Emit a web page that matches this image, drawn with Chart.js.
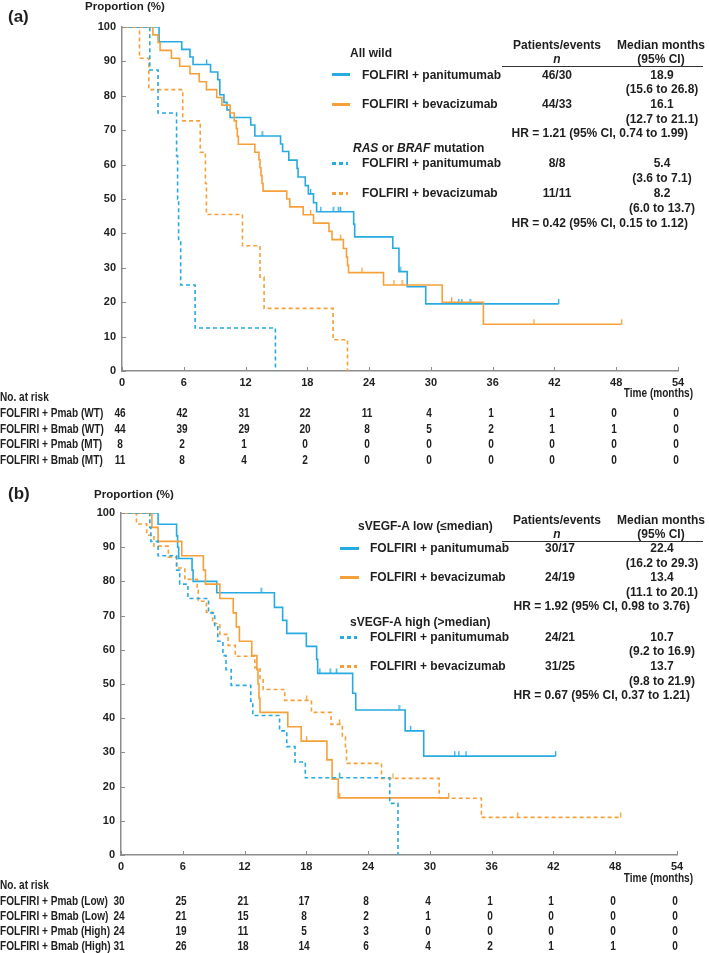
<!DOCTYPE html>
<html>
<head>
<meta charset="utf-8">
<title>Kaplan-Meier curves, panels (a) and (b)</title>
<script src="https://cdn.jsdelivr.net/npm/chart.js@4.4.1/dist/chart.umd.min.js"></script>
<style>
  body { margin: 0; background: #fff; }
  #page { position: relative; width: 709px; height: 953px; overflow: hidden;
          font-family: "Liberation Sans", Arial, sans-serif; color: #1e1e1e; }
  canvas { position: absolute; left: 0; }
  .t { position: absolute; white-space: nowrap; font-weight: bold; font-size: 12px; line-height: 14px; }
  .nar { font-size: 12px; }
  .sw { position: absolute; height: 3px; }
  .rule { position: absolute; height: 1px; background: #333; }
</style>
</head>
<body>
<div id="page">
  <canvas id="chartA" width="709" height="480" style="top:0"></canvas>
  <canvas id="chartB" width="709" height="473" style="top:480px"></canvas>
</div>
<script>
const BLUE = "#27aae1";
const ORANGE = "#f6a03a";
const AXIS = "#8c8c8c";

const months = [0, 6, 12, 18, 24, 30, 36, 42, 48, 54];

// ---- panel (a): all wild / RAS or BRAF mutation ----
const wtPmabT = [0, 3.6, 5.8, 6.6, 6.9, 8.6, 9.3, 9.5, 9.9, 10.2, 10.5, 12.5, 12.9, 15.4, 15.6, 16.2, 17.0, 17.1, 17.8, 18.1, 18.6, 18.9, 22.5, 22.6, 26.3, 26.9, 27.7, 29.5, 42.4];
const wtPmabS = [100, 95.7, 93.5, 91.3, 89.1, 86.9, 84.7, 80.3, 78.1, 75.9, 73.7, 71.5, 68.3, 66.0, 63.8, 61.3, 58.9, 56.4, 53.9, 51.5, 48.9, 46.3, 42.7, 39.0, 35.7, 28.9, 24.5, 19.5, 19.5];
const wtPmabCens = [8.2, 13.6, 18.3, 19.3, 20.5, 21.0, 21.2, 27.0, 32.7, 33.0, 33.8, 42.4];

const wtBmabT = [0, 3.0, 3.5, 3.7, 4.8, 5.6, 6.6, 7.5, 8.2, 9.2, 9.7, 10.5, 10.9, 11.1, 11.2, 11.3, 12.9, 13.3, 13.4, 13.5, 13.6, 13.7, 16.0, 16.3, 17.6, 18.6, 20.1, 20.4, 21.5, 21.8, 21.9, 22.0, 25.4, 31.1, 35.1, 48.5];
const wtBmabS = [100, 97.7, 95.5, 93.2, 90.9, 88.6, 86.4, 84.1, 81.8, 79.5, 77.3, 75.0, 72.7, 70.5, 68.2, 65.9, 63.6, 61.4, 59.1, 56.8, 54.5, 52.3, 50.0, 47.7, 45.4, 43.0, 40.6, 38.2, 35.6, 33.1, 30.7, 28.6, 25.0, 20.0, 13.6, 13.6];
const wtBmabCens = [18.3, 21.2, 23.3, 26.4, 27.2, 32.0, 40.0, 48.5];

const mtPmabT = [0, 2.7, 3.5, 5.3, 5.4, 5.5, 5.7, 7.1, 14.9];
const mtPmabS = [100, 87.5, 75, 62.5, 50, 37.5, 25, 12.5, 0];

const mtBmabT = [0, 1.7, 2.6, 5.9, 7.6, 8.1, 8.2, 11.7, 13.4, 13.8, 20.5, 21.9];
const mtBmabS = [100, 90.9, 81.8, 72.7, 63.6, 54.5, 45.5, 36.4, 27.3, 18.2, 9.1, 0];

const riskLabelsA = ["FOLFIRI + Pmab (WT)", "FOLFIRI + Bmab (WT)", "FOLFIRI + Pmab (MT)", "FOLFIRI + Bmab (MT)"];
const riskWtPmab = [46, 42, 31, 22, 11, 4, 1, 1, 0, 0];
const riskWtBmab = [44, 39, 29, 20, 8, 5, 2, 1, 1, 0];
const riskMtPmab = [8, 2, 1, 0, 0, 0, 0, 0, 0, 0];
const riskMtBmab = [11, 8, 4, 2, 0, 0, 0, 0, 0, 0];

// ---- panel (b): sVEGF-A low / high ----
const lowPmabT = [0, 3.6, 5.4, 5.5, 5.6, 6.9, 7.0, 9.3, 14.9, 15.7, 16.1, 18.0, 19.0, 19.1, 22.5, 22.8, 27.6, 29.4, 42.2];
const lowPmabS = [100, 96.7, 93.3, 90.0, 86.7, 83.3, 80.0, 76.7, 72.4, 68.6, 64.8, 61.0, 57.2, 53.1, 47.3, 42.4, 36.3, 28.9, 28.9];
const lowPmabCens = [13.6, 19.3, 20.3, 20.9, 27.0, 28.1, 32.4, 32.8, 33.5, 42.2];

const lowBmabT = [0, 3.0, 3.6, 5.9, 8.0, 8.2, 9.6, 10.9, 11.2, 11.5, 12.7, 13.2, 13.3, 13.4, 13.5, 16.2, 17.5, 20.0, 20.5, 21.1, 31.8];
const lowBmabS = [100, 95.8, 91.7, 87.5, 83.3, 79.2, 75.0, 70.8, 66.7, 62.5, 58.3, 54.2, 50.0, 45.8, 41.7, 37.5, 33.3, 27.8, 22.2, 16.7, 16.7];
const lowBmabCens = [18.0, 21.2, 31.8];

const highPmabT = [0, 2.8, 2.9, 3.6, 5.4, 5.7, 6.5, 8.5, 9.1, 9.4, 9.9, 10.2, 10.7, 12.6, 12.8, 15.4, 16.1, 16.9, 17.9, 26.1, 26.9];
const highPmabS = [100, 95.8, 91.7, 87.5, 83.3, 79.2, 75.0, 70.8, 66.7, 62.5, 58.3, 54.2, 49.6, 45.0, 40.8, 36.3, 31.7, 27.2, 22.6, 15.1, 0];
const highPmabCens = [21.2];

const highBmabT = [0, 1.5, 2.5, 3.2, 4.6, 5.4, 6.2, 7.4, 7.5, 8.3, 8.9, 9.6, 10.4, 11.1, 13.0, 13.5, 13.8, 15.9, 18.5, 20.4, 21.5, 21.8, 21.9, 25.3, 30.9, 35.0, 48.5];
const highBmabS = [100, 96.8, 93.5, 90.3, 87.1, 83.9, 80.6, 77.4, 74.2, 71.0, 67.7, 64.5, 61.3, 58.1, 54.8, 51.6, 48.4, 45.2, 41.7, 38.2, 34.6, 30.7, 26.8, 22.4, 16.6, 11.0, 11.0];
const highBmabCens = [18.0, 21.2, 26.4, 38.5, 48.5];

const riskLabelsB = ["FOLFIRI + Pmab (Low)", "FOLFIRI + Bmab (Low)", "FOLFIRI + Pmab (High)", "FOLFIRI + Bmab (High)"];
const riskLowPmab = [30, 25, 21, 17, 8, 4, 1, 1, 0, 0];
const riskLowBmab = [24, 21, 15, 8, 2, 1, 0, 0, 0, 0];
const riskHighPmab = [24, 19, 11, 5, 3, 0, 0, 0, 0, 0];
const riskHighBmab = [31, 26, 18, 14, 6, 4, 2, 1, 1, 0];

const page = document.getElementById("page");

// value of the KM step function at time t
function stepAt(T, S, t) {
  let v = S[0];
  for (let i = 0; i < T.length; i++) if (T[i] <= t) v = S[i];
  return v;
}

// censor mark: a short tick standing up from the curve
function tickMark(color) {
  const c = document.createElement("canvas");
  c.width = 3; c.height = 12;
  const g = c.getContext("2d");
  g.fillStyle = color;
  g.fillRect(1, 1, 1.3, 5);
  return c;
}

function curve(T, S, color, dashed) {
  return {
    type: "line",
    data: T.map((t, i) => ({ x: t, y: S[i] })),
    borderColor: color,
    borderWidth: 1.6,
    borderDash: dashed ? [4, 3] : [],
    stepped: "before",
    pointRadius: 0,
    fill: false,
  };
}

function censors(T, S, cens, color) {
  return {
    type: "scatter",
    data: cens.map((c) => ({ x: c, y: stepAt(T, S, c) })),
    pointStyle: tickMark(color),
    radius: 3,
  };
}

// small tick marks pointing into the plot
const innerTicks = {
  id: "innerTicks",
  afterDatasetsDraw(chart) {
    const { ctx, chartArea: a } = chart;
    const x = chart.scales.x, y = chart.scales.y;
    ctx.save();
    ctx.strokeStyle = AXIS;
    ctx.lineWidth = 1;
    x.ticks.forEach((t) => {
      const px = Math.round(x.getPixelForValue(t.value)) + 0.5;
      ctx.beginPath(); ctx.moveTo(px, a.bottom); ctx.lineTo(px, a.bottom - 4); ctx.stroke();
    });
    y.ticks.forEach((t) => {
      const py = Math.round(y.getPixelForValue(t.value)) + 0.5;
      ctx.beginPath(); ctx.moveTo(a.left, py); ctx.lineTo(a.left + 4, py); ctx.stroke();
    });
    ctx.restore();
  },
};

function kmChart(id, datasets, pad, axisW) {
  const tickFont = { family: "'Liberation Sans', Arial, sans-serif", size: 11, weight: "bold" };
  return new Chart(document.getElementById(id), {
    data: { datasets },
    plugins: [innerTicks],
    options: {
      responsive: false,
      animation: false,
      devicePixelRatio: 1,
      layout: { padding: pad },
      plugins: { legend: { display: false }, tooltip: { enabled: false } },
      scales: {
        x: {
          type: "linear", min: 0, max: 54,
          afterFit: (s) => { s.height = 20; },
          ticks: { stepSize: 6, font: tickFont, color: "#1e1e1e", padding: 5, maxRotation: 0 },
          grid: { drawOnChartArea: false, drawTicks: false },
          border: { color: AXIS, width: 1.5 },
        },
        y: {
          type: "linear", min: 0, max: 100,
          afterFit: (s) => { s.width = axisW; },
          ticks: { stepSize: 10, font: tickFont, color: "#1e1e1e", padding: 6 },
          grid: { drawOnChartArea: false, drawTicks: false },
          border: { color: AXIS, width: 1.5 },
        },
      },
    },
  });
}

// text helper: align l / c / r, y is the text middle; sx squeezes the text horizontally
function put(x, y, html, align, cls, style, sx) {
  const d = document.createElement("div");
  d.className = "t" + (cls ? " " + cls : "");
  d.innerHTML = html;
  d.style.left = x + "px";
  d.style.top = y + "px";
  const tx = align === "c" ? -50 : align === "r" ? -100 : 0;
  let tf = "translate(" + tx + "%,-50%)";
  if (sx) {
    tf += " scaleX(" + sx + ")";
    d.style.transformOrigin = (align === "c" ? "50%" : align === "r" ? "100%" : "0%") + " 50%";
  }
  d.style.transform = tf;
  if (style) d.setAttribute("style", d.getAttribute("style") + ";" + style);
  page.appendChild(d);
  return d;
}

function swatch(x1, x2, y, color, dotted) {
  const d = document.createElement("div");
  d.className = "sw";
  d.style.left = x1 + "px";
  d.style.width = (x2 - x1) + "px";
  d.style.top = (y - 1.5) + "px";
  d.style.background = dotted
    ? "repeating-linear-gradient(90deg," + color + " 0 4px, transparent 4px 7px)"
    : color;
  page.appendChild(d);
}

function rule(x1, x2, y) {
  const d = document.createElement("div");
  d.className = "rule";
  d.style.left = x1 + "px";
  d.style.width = (x2 - x1) + "px";
  d.style.top = y + "px";
  page.appendChild(d);
}

const NARROW = 0.84;

function riskTable(chart, timeY, headY, rowYs, labels, rows) {
  const x = chart.scales.x;
  put(693, timeY, "Time (months)", "r", "nar", "", NARROW);
  put(0, headY, "No. at risk", "l", "nar", "", NARROW);
  rows.forEach((vals, r) => {
    put(0, rowYs[r], labels[r], "l", "nar", "", NARROW);
    vals.forEach((v, i) => {
      put(x.getPixelForValue(months[i]) - 2, rowYs[r], String(v), "c", "nar", "", NARROW);
    });
  });
}

// ---------- panel (a) ----------
const chartA = kmChart("chartA", [
  curve(mtPmabT, mtPmabS, BLUE, true),
  curve(mtBmabT, mtBmabS, ORANGE, true),
  curve(wtBmabT, wtBmabS, ORANGE, false),
  curve(wtPmabT, wtPmabS, BLUE, false),
  censors(wtBmabT, wtBmabS, wtBmabCens, ORANGE),
  censors(wtPmabT, wtPmabS, wtPmabCens, BLUE),
], { left: 0, top: 27, right: 31, bottom: 89 }, 122);

put(8, 17, "(a)", "l", "", "font-size:17px");
put(85, 6, "Proportion (%)", "l", "", "font-size:11.5px");

put(350, 53, "All wild", "l");
put(557, 45, "Patients/events", "c");
put(557, 59, "<i>n</i>", "c");
put(661, 45, "Median months", "c");
put(661, 59, "(95% CI)", "c");
rule(502, 703, 66);
swatch(332, 350, 74, BLUE, false);
put(362, 75, "FOLFIRI + panitumumab", "l");
put(557, 75, "46/30", "c");
put(662, 75, "18.9", "c");
put(662, 89, "(15.6 to 26.8)", "c");
swatch(332, 350, 104, ORANGE, false);
put(362, 104, "FOLFIRI + bevacizumab", "l");
put(557, 104, "44/33", "c");
put(662, 104, "16.1", "c");
put(662, 119, "(12.7 to 21.1)", "c");
put(688, 133, "HR = 1.21 (95% CI, 0.74 to 1.99)", "r");
put(353, 148, "<i>RAS</i> or <i>BRAF</i> mutation", "l");
swatch(332, 348, 163, BLUE, true);
put(362, 163, "FOLFIRI + panitumumab", "l");
put(557, 163, "8/8", "c");
put(662, 163, "5.4", "c");
put(662, 178, "(3.6 to 7.1)", "c");
swatch(332, 348, 193, ORANGE, true);
put(362, 193, "FOLFIRI + bevacizumab", "l");
put(557, 193, "11/11", "c");
put(662, 193, "8.2", "c");
put(662, 208, "(6.0 to 13.7)", "c");
put(688, 223, "HR = 0.42 (95% CI, 0.15 to 1.12)", "r");

riskTable(chartA, 393, 397, [413, 429, 444, 460], riskLabelsA,
  [riskWtPmab, riskWtBmab, riskMtPmab, riskMtBmab]);

// ---------- panel (b) ----------
const chartB = kmChart("chartB", [
  curve(highPmabT, highPmabS, BLUE, true),
  curve(highBmabT, highBmabS, ORANGE, true),
  curve(lowBmabT, lowBmabS, ORANGE, false),
  curve(lowPmabT, lowPmabS, BLUE, false),
  censors(highPmabT, highPmabS, highPmabCens, BLUE),
  censors(highBmabT, highBmabS, highBmabCens, ORANGE),
  censors(lowBmabT, lowBmabS, lowBmabCens, ORANGE),
  censors(lowPmabT, lowPmabS, lowPmabCens, BLUE),
], { left: 0, top: 33, right: 32, bottom: 78 }, 121);

put(8, 494, "(b)", "l", "", "font-size:17px");
put(94, 494, "Proportion (%)", "l", "", "font-size:11.5px");

put(358, 526, "sVEGF-A low (≤median)", "l");
put(557, 520, "Patients/events", "c");
put(557, 534, "<i>n</i>", "c");
put(661, 520, "Median months", "c");
put(661, 534, "(95% CI)", "c");
rule(502, 703, 541);
swatch(340, 359, 548, BLUE, false);
put(370, 548, "FOLFIRI + panitumumab", "l");
put(560, 548, "30/17", "c");
put(662, 548, "22.4", "c");
put(662, 563, "(16.2 to 29.3)", "c");
swatch(340, 359, 577, ORANGE, false);
put(370, 577, "FOLFIRI + bevacizumab", "l");
put(560, 577, "24/19", "c");
put(662, 577, "13.4", "c");
put(662, 592, "(11.1 to 20.1)", "c");
put(690, 606, "HR = 1.92 (95% CI, 0.98 to 3.76)", "r");
put(350, 622, "sVEGF-A high (&gt;median)", "l");
swatch(340, 357, 637, BLUE, true);
put(370, 637, "FOLFIRI + panitumumab", "l");
put(560, 637, "24/21", "c");
put(662, 637, "10.7", "c");
put(662, 651, "(9.2 to 16.9)", "c");
swatch(340, 357, 666, ORANGE, true);
put(370, 666, "FOLFIRI + bevacizumab", "l");
put(560, 666, "31/25", "c");
put(662, 666, "13.7", "c");
put(662, 681, "(9.8 to 21.9)", "c");
put(690, 695, "HR = 0.67 (95% CI, 0.37 to 1.21)", "r");

riskTable(chartB, 878, 885, [901, 916, 931, 946], riskLabelsB,
  [riskLowPmab, riskLowBmab, riskHighPmab, riskHighBmab]);
</script>
</body>
</html>
